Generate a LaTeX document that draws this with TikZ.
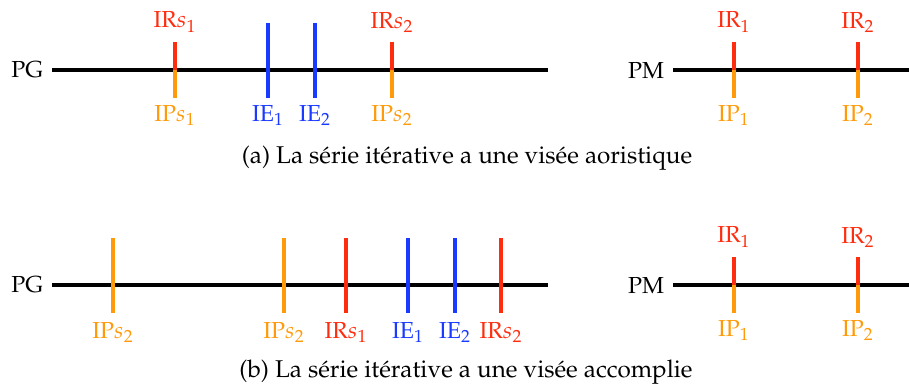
\documentclass[tikz,border=0pt]{standalone}
\usepackage[T1]{fontenc}
\usepackage{mathpazo}
\usetikzlibrary{positioning}
\definecolor{irred}{HTML}{FF2D0F}
\definecolor{iporange}{HTML}{FF9A0A}
\definecolor{ieblue}{HTML}{1A3AFF}

\begin{document}
\begin{tikzpicture}[x=0.47pt, y=-0.47pt,
    font=\fontsize{10.9}{13}\selectfont,
    axe/.style={line width=1.9pt, black},
    trait/.style={line width=1.5pt},
    lbl/.style={inner sep=3.3pt},
    legende/.style={anchor=base, font=\fontsize{11.4}{14}\selectfont}]
  \useasboundingbox (0,0) rectangle (909,387);

  % (a) axe PG
  \coordinate (pga0) at (52,70);
  \coordinate (pga1) at (548,70);
  \draw[axe] (pga0) -- (pga1);
  \node[left=0pt of pga0, inner sep=4pt] (pga) {PG};
  \foreach \x/\k in {175/1, 392/2} {
    \coordinate (irsa\k) at (\x,42);
    \coordinate (msa\k) at (\x,70);
    \coordinate (ipsa\k) at (\x,98);
    \draw[trait, irred] (irsa\k) -- (msa\k);
    \draw[trait, iporange] (msa\k) -- (ipsa\k);
    \node[lbl, above=1pt of irsa\k, irred] (lirsa\k) {IR$s_{\k}$};
    \node[lbl, below=0pt of ipsa\k, iporange] (lipsa\k) {IP$s_{\k}$};
  }
  \foreach \x/\k in {268/1, 315/2} {
    \coordinate (iea\k) at (\x,23);
    \coordinate (ieab\k) at (\x,98);
    \draw[trait, ieblue] (iea\k) -- (ieab\k);
    \node[lbl, below=0pt of ieab\k, ieblue] (liea\k) {IE$_{\k}$};
  }

  % (a) axe PM
  \coordinate (pma0) at (673,70);
  \coordinate (pma1) at (909,70);
  \draw[axe] (pma0) -- (pma1);
  \node[left=0pt of pma0, inner sep=4pt] (pma) {PM};
  \foreach \x/\k in {734/1, 858/2} {
    \coordinate (ira\k) at (\x,42);
    \coordinate (ma\k) at (\x,70);
    \coordinate (ipa\k) at (\x,98);
    \draw[trait, irred] (ira\k) -- (ma\k);
    \draw[trait, iporange] (ma\k) -- (ipa\k);
    \node[lbl, above=1pt of ira\k, irred] (lira\k) {IR$_{\k}$};
    \node[lbl, below=0pt of ipa\k, iporange] (lipa\k) {IP$_{\k}$};
  }

  \node[legende] (capa) at (467,163)
    {(a) La s\'erie it\'erative a une vis\'ee aoristique};

  % (b) axe PG
  \coordinate (pgb0) at (52,285);
  \coordinate (pgb1) at (548,285);
  \draw[axe] (pgb0) -- (pgb1);
  \node[left=0pt of pgb0, inner sep=4pt] (pgb) {PG};
  \foreach \x/\c/\t/\n in {113/iporange/IP$s_2$/1, 284/iporange/IP$s_2$/2,
      346/irred/IR$s_1$/3, 408/ieblue/IE$_1$/4, 455/ieblue/IE$_2$/5,
      501/irred/IR$s_2$/6} {
    \coordinate (tb\n) at (\x,238);
    \coordinate (bb\n) at (\x,313);
    \draw[trait, \c] (tb\n) -- (bb\n);
    \node[lbl, below=1pt of bb\n, \c] (lb\n) {\t};
  }

  % (b) axe PM
  \coordinate (pmb0) at (673,285);
  \coordinate (pmb1) at (909,285);
  \draw[axe] (pmb0) -- (pmb1);
  \node[left=0pt of pmb0, inner sep=4pt] (pmb) {PM};
  \foreach \x/\k in {734/1, 858/2} {
    \coordinate (irb\k) at (\x,257);
    \coordinate (mb\k) at (\x,285);
    \coordinate (ipb\k) at (\x,313);
    \draw[trait, irred] (irb\k) -- (mb\k);
    \draw[trait, iporange] (mb\k) -- (ipb\k);
    \node[lbl, above=1pt of irb\k, irred] (lirb\k) {IR$_{\k}$};
    \node[lbl, below=0pt of ipb\k, iporange] (lipb\k) {IP$_{\k}$};
  }

  \node[legende] (capb) at (466,377)
    {(b) La s\'erie it\'erative a une vis\'ee accomplie};
\end{tikzpicture}
\end{document}
